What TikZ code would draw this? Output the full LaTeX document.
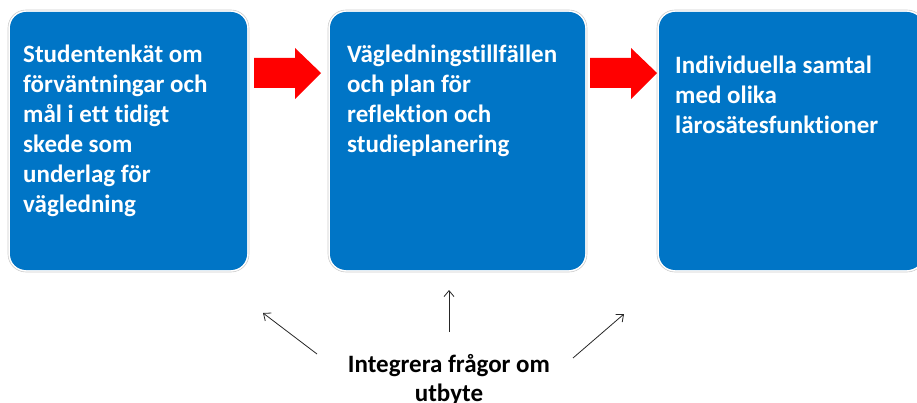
\documentclass[tikz,border=0pt]{standalone}
\usepackage{fontspec}
\setmainfont{Carlito}[RawFeature={-liga;-clig;-calt;-dlig}]
\newcommand\nolig{\kern0pt{}}
\definecolor{boxblue}{RGB}{0,117,198}
\definecolor{arrowred}{RGB}{255,0,0}
\tikzset{
  x=1pt, y=-1pt,
  bluebox/.style={draw=black!20, line width=0.6pt, fill=white, rounded corners=18pt, inner sep=0pt},
  blueinner/.style={fill=boxblue, rounded corners=16pt, inner sep=0pt},
  boxtext/.style={text=white, font=\bfseries\fontsize{25}{30}\selectfont, align=left, anchor=north west, inner sep=0pt},
  redarrow/.style={fill=arrowred},
  thinarrow/.style={draw=black!85, line width=0.8pt, -{Straight Barb[length=6pt,width=10pt]}},
}
\usetikzlibrary{arrows.meta}
\begin{document}
\begin{tikzpicture}
\useasboundingbox (0,0) rectangle (917,403);
% boxes
\node[bluebox, minimum width=241pt, minimum height=262pt] (b1o) at (128.5,141) {};
\node[blueinner, minimum width=237pt, minimum height=258pt] (b1) at (128.5,141) {};
\node[bluebox, minimum width=259pt, minimum height=262pt] (b2o) at (457.5,141) {};
\node[blueinner, minimum width=255pt, minimum height=258pt] (b2) at (457.5,141) {};
\node[bluebox, minimum width=268pt, minimum height=262pt] (b3o) at (791,141) {};
\node[blueinner, minimum width=264pt, minimum height=258pt] (b3) at (791,141) {};
% texts
\node[boxtext] (t1) at (23,45) {Studentenkät om\\förväntningar och\\mål i ett t\nolig idigt\\skede som\\underlag för\\vägledning};
\node[boxtext] (t2) at (347,45) {Vägledningst\nolig illf\nolig äl\nolig len\\och plan för\\reflekt\nolig ion och\\studieplanering};
\node[boxtext] (t3) at (675,56) {Individuella samtal\\med olika\\lärosätesfunkt\nolig ioner};
% red arrows
\fill[redarrow] (254,58) -- (295,58) -- (295,48) -- (321,73) -- (295,99) -- (295,88) -- (254,88) -- cycle;
\fill[redarrow] (590,58) -- (631,58) -- (631,48) -- (657,73) -- (631,99) -- (631,88) -- (590,88) -- cycle;
% bottom text
\node[font=\bfseries\fontsize{25}{29}\selectfont, align=center, anchor=north, inner sep=0pt] (it) at (449,354) {Integrera frågor om\\utbyte};
\coordinate (a1s) at (317,354);
\coordinate (a1e) at (263,313);
\coordinate (a2s) at (449,332);
\coordinate (a2e) at (449,290);
\coordinate (a3s) at (573,358);
\coordinate (a3e) at (624,314);
\draw[thinarrow] (a1s) -- (a1e);
\draw[thinarrow] (a2s) -- (a2e);
\draw[thinarrow] (a3s) -- (a3e);
\end{tikzpicture}
\end{document}
